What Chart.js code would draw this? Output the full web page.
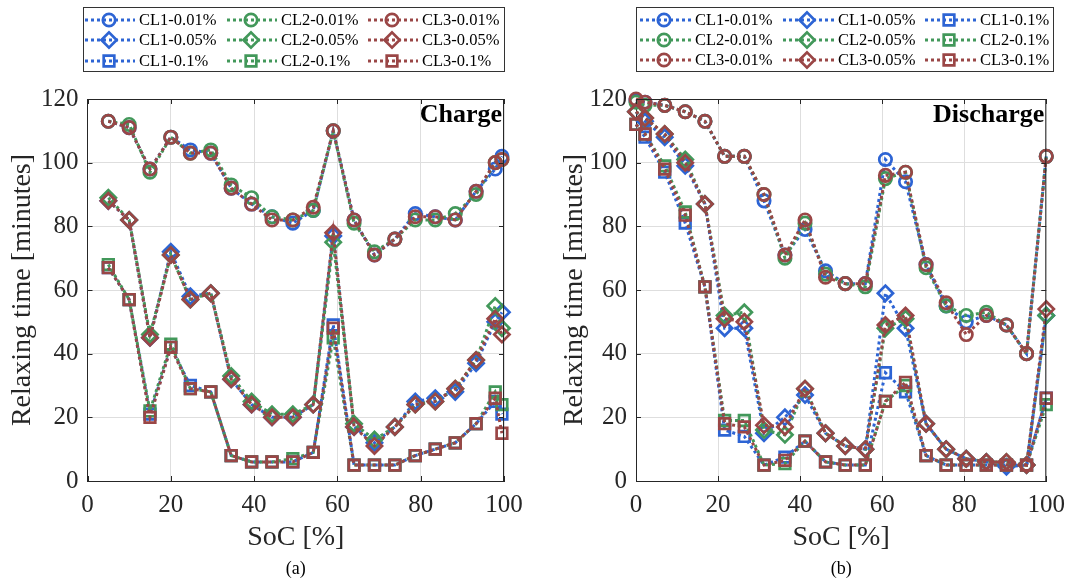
<!DOCTYPE html>
<html><head><meta charset="utf-8">
<script src="https://cdn.jsdelivr.net/npm/chart.js@4/dist/chart.umd.min.js"></script>
<style>
html,body{margin:0;padding:0;background:#fff;}
#wrap{position:relative;width:1074px;height:585px;overflow:hidden;}
.pane{position:absolute;top:0;width:537px;height:585px;}
</style></head><body>
<div id="wrap">
<div class="pane" style="left:0"><canvas id="c1" width="537" height="585"></canvas></div>
<div class="pane" style="left:537px"><canvas id="c2" width="537" height="585"></canvas></div>
</div>
<script>
// ---------- data ----------
const xTicks = [0, 20, 40, 60, 80, 100];
const yTicks = [0, 20, 40, 60, 80, 100, 120];

const chargeSoc = [5, 10, 15, 20, 24.7, 29.6, 34.5, 39.4, 44.3, 49.3, 54.2, 59, 64, 68.9, 73.8, 78.7, 83.5, 88.3, 93.3, 97.9, 99.5];
const chargeCL1_001 = [113, 111, 98, 108, 104, 103, 92, 87, 83, 81, 85, 110, 82, 71, 76, 84, 83, 82, 91, 98, 102];
const chargeCL2_001 = [113, 112, 97, 108, 103, 104, 93, 89, 83, 82, 85, 110, 81, 72, 76, 82, 82, 84, 90, 100, 101];
const chargeCL3_001 = [113, 111, 98, 108, 103, 103, 92, 87, 82, 82, 86, 110, 82, 71, 76, 83, 83, 82, 91, 100, 101];
const chargeCL1_005 = [88, 82, 45, 72, 58, 59, 32, 24, 20, 20, 24, 77, 17, 12, 17, 25, 26, 28, 37, 50, 53];
const chargeCL2_005 = [89, 82, 46, 71, 57, 59, 33, 25, 21, 21, 24, 75, 18, 13, 17, 24, 25, 29, 38, 55, 48];
const chargeCL3_005 = [88, 82, 45, 71, 57, 59, 32, 24, 20, 20, 24, 78, 17, 11, 17, 24, 25, 29, 38, 51, 46];
const chargeCL1_01 = [67, 57, 21, 42, 30, 28, 8, 6, 6, 6, 9, 49, 5, 5, 5, 8, 10, 12, 18, 25, 21];
const chargeCL2_01 = [68, 57, 22, 43, 29, 28, 8, 6, 6, 7, 9, 45, 5, 5, 5, 8, 10, 12, 18, 28, 24];
const chargeCL3_01 = [67, 57, 20, 42, 29, 28, 8, 6, 6, 6, 9, 48, 5, 5, 5, 8, 10, 12, 18, 26, 15];

const dischargeSoc = [0, 2.2, 7, 12, 16.8, 21.6, 26.4, 31.2, 36.3, 41.2, 46.2, 51, 55.9, 60.8, 65.7, 70.7, 75.6, 80.5, 85.4, 90.3, 95.2, 100];
const dischargeCL1_001 = [119.5, 119, 118, 116, 113, 102, 102, 88, 71, 79, 66, 62, 62, 101, 94, 68, 55, 50, 52, 49, 40, 102];
const dischargeCL2_001 = [119, 118, 118, 116, 113, 102, 102, 90, 70, 81, 65, 62, 61, 95, 97, 67, 55, 52, 53, 49, 40, 102];
const dischargeCL3_001 = [120, 119, 118, 116, 113, 102, 102, 90, 71, 82, 64, 62, 62, 96, 97, 68, 56, 46, 52, 49, 40, 102];
const dischargeCL1_005 = [116, 113, 108, 99, 87, 48, 48, 15, 20, 27, 15, 11, 10, 59, 48, 18, 10, 7, 6, 4.5, 5, 52];
const dischargeCL2_005 = [116, 114, 109, 101, 87, 52, 53, 16, 14.5, 29, 15, 11, 10, 48, 51, 18, 10, 7, 6, 6, 5, 52];
const dischargeCL3_005 = [116, 114, 109, 100, 87, 51, 50, 17.5, 17, 29, 15, 11, 10, 49, 52, 18, 10, 7, 6, 6, 5, 54];
const dischargeCL1_01 = [112, 108, 97, 81, 61, 16, 14, 5, 7.5, 12.5, 6, 5, 5, 34, 28, 8, 5, 5, 5, 5, 5, 26];
const dischargeCL2_01 = [112, 109, 99, 84.5, 61, 19, 19, 5, 5.5, 12.5, 6, 5, 5, 25, 30, 8, 5, 5, 5, 5, 5, 24];
const dischargeCL3_01 = [112, 109, 98, 83.5, 61, 18, 17, 5, 6.5, 12.5, 6, 5, 5, 25, 31, 8, 5, 5, 5, 5, 5, 26];

const seriesNames = ['CL1-0.01%', 'CL2-0.01%', 'CL3-0.01%', 'CL1-0.05%', 'CL2-0.05%', 'CL3-0.05%', 'CL1-0.1%', 'CL2-0.1%', 'CL3-0.1%'];

// ---------- styles ----------
const COLORS = {CL1: '#2d64d4', CL2: '#42985a', CL3: '#9a4646'};
const STYLES = {'0.01%': 'circle', '0.05%': 'rectRot', '0.1%': 'rect'};
const RADII = {circle: 6.2, rectRot: 7.6, rect: 7.5};
const AXIS_COLOR = '#262626';
const FONT = '"Liberation Serif", "Times New Roman", serif';

function styleOf(name) {
  const cl = name.slice(0, 3), rate = name.slice(4);
  const ps = STYLES[rate];
  return {color: COLORS[cl], pointStyle: ps, radius: RADII[ps], clIndex: +name[2]};
}

function buildDatasets(soc, valuesByName) {
  return seriesNames.map(name => {
    const st = styleOf(name);
    const vals = valuesByName[name];
    return {
      label: name,
      data: soc.map((x, i) => ({x: x, y: vals[i]})),
      borderColor: st.color,
      backgroundColor: 'rgba(0,0,0,0)',
      borderWidth: 3,
      borderDash: [3, 3],
      borderCapStyle: 'butt',
      pointStyle: st.pointStyle,
      pointRadius: st.radius,
      pointBorderWidth: 2.7,
      pointBorderColor: st.color,
      pointBackgroundColor: 'rgba(0,0,0,0)',
      tension: 0,
      clip: false,
      order: 3 - st.clIndex
    };
  });
}

function drawMarker(ctx, style, x, y, r) {
  ctx.beginPath();
  if (style === 'circle') {
    ctx.arc(x, y, r, 0, Math.PI * 2);
  } else if (style === 'rectRot') {
    ctx.moveTo(x - r, y); ctx.lineTo(x, y - r); ctx.lineTo(x + r, y); ctx.lineTo(x, y + r); ctx.closePath();
  } else {
    const s = r * Math.SQRT1_2;
    ctx.rect(x - s, y - s, 2 * s, 2 * s);
  }
  ctx.stroke();
}

const decorPlugin = {
  id: 'decor',
  afterDraw(chart, args, opts) {
    const ctx = chart.ctx;
    const a = chart.chartArea;
    const xs = chart.scales.x, ys = chart.scales.y;
    ctx.save();
    // frame top/right + inward ticks
    ctx.strokeStyle = AXIS_COLOR;
    ctx.lineWidth = 1;
    ctx.beginPath();
    ctx.moveTo(a.left, a.top + 0.5); ctx.lineTo(a.right, a.top + 0.5);
    ctx.moveTo(a.right - 0.5, a.top); ctx.lineTo(a.right - 0.5, a.bottom);
    xTicks.forEach(t => {
      const px = Math.round(xs.getPixelForValue(t)) + 0.5;
      ctx.moveTo(px, a.bottom); ctx.lineTo(px, a.bottom - 5);
      ctx.moveTo(px, a.top); ctx.lineTo(px, a.top + 5);
    });
    yTicks.forEach(t => {
      const py = Math.round(ys.getPixelForValue(t)) + 0.5;
      ctx.moveTo(a.left, py); ctx.lineTo(a.left + 5, py);
      ctx.moveTo(a.right, py); ctx.lineTo(a.right - 5, py);
    });
    ctx.stroke();

    // panel title
    ctx.fillStyle = '#000';
    ctx.font = 'bold 26px ' + FONT;
    ctx.textAlign = 'right';
    ctx.textBaseline = 'alphabetic';
    ctx.fillText(opts.title, a.right - 2, 122);

    // sub caption
    ctx.font = '18px ' + FONT;
    ctx.textAlign = 'center';
    ctx.textBaseline = 'middle';
    ctx.fillStyle = '#000';
    ctx.fillText(opts.caption, (a.left + a.right) / 2, 569);

    // legend
    const L = opts.legend;
    ctx.fillStyle = '#fff';
    ctx.fillRect(L.box[0], L.box[1], L.box[2] - L.box[0], L.box[3] - L.box[1]);
    ctx.strokeStyle = '#333';
    ctx.lineWidth = 1;
    ctx.strokeRect(L.box[0] + 0.5, L.box[1] + 0.5, L.box[2] - L.box[0], L.box[3] - L.box[1]);
    L.items.forEach(it => {
      const st = styleOf(it.name);
      const x0 = L.cols[it.col], y = L.rows[it.row];
      ctx.strokeStyle = st.color;
      ctx.lineWidth = 3;
      ctx.setLineDash([3, 3]);
      ctx.beginPath();
      ctx.moveTo(x0, y); ctx.lineTo(x0 + L.lineW, y);
      ctx.stroke();
      ctx.setLineDash([]);
      ctx.lineWidth = 2.7;
      drawMarker(ctx, st.pointStyle, x0 + L.markerDx, y, st.radius);
      ctx.fillStyle = '#000';
      ctx.font = '16.5px ' + FONT;
      ctx.textAlign = 'left';
      ctx.textBaseline = 'middle';
      ctx.fillText(it.name, x0 + L.textDx, y + 1);
    });
    ctx.restore();
  }
};

function makeChart(canvasId, soc, valuesByName, cfg) {
  return new Chart(document.getElementById(canvasId), {
    type: 'line',
    data: {datasets: buildDatasets(soc, valuesByName)},
    plugins: [decorPlugin],
    options: {
      responsive: false,
      animation: false,
      layout: {padding: {left: 0, right: cfg.rightPad, top: 99, bottom: 0}},
      plugins: {
        legend: {display: false},
        tooltip: {enabled: false},
        decor: {title: cfg.title, caption: cfg.caption, legend: cfg.legend}
      },
      scales: {
        x: {
          type: 'linear', min: 0, max: 100,
          afterBuildTicks: s => { s.ticks = xTicks.map(v => ({value: v})); },
          afterFit: s => { s.height = 104; },
          ticks: {color: AXIS_COLOR, font: {family: FONT, size: 25}, padding: 9, maxRotation: 0},
          grid: {color: '#dedede', lineWidth: 1, drawTicks: false},
          border: {display: true, color: AXIS_COLOR, width: 1},
          title: {display: true, text: 'SoC [%]', color: AXIS_COLOR, font: {family: FONT, size: 28}, padding: {top: 0, bottom: 31}}
        },
        y: {
          type: 'linear', min: 0, max: 120,
          afterBuildTicks: s => { s.ticks = yTicks.map(v => ({value: v})); },
          afterFit: s => { s.width = cfg.yWidth; },
          ticks: {color: AXIS_COLOR, font: {family: FONT, size: 25}, padding: 9},
          grid: {color: '#dedede', lineWidth: 1, drawTicks: false},
          border: {display: true, color: AXIS_COLOR, width: 1},
          title: {display: true, text: 'Relaxing time [minutes]', color: AXIS_COLOR, font: {family: FONT, size: 28}, padding: {top: cfg.yTitlePad, bottom: 0}}
        }
      }
    }
  });
}

const chargeValues = {
  'CL1-0.01%': chargeCL1_001, 'CL2-0.01%': chargeCL2_001, 'CL3-0.01%': chargeCL3_001,
  'CL1-0.05%': chargeCL1_005, 'CL2-0.05%': chargeCL2_005, 'CL3-0.05%': chargeCL3_005,
  'CL1-0.1%': chargeCL1_01, 'CL2-0.1%': chargeCL2_01, 'CL3-0.1%': chargeCL3_01
};
const dischargeValues = {
  'CL1-0.01%': dischargeCL1_001, 'CL2-0.01%': dischargeCL2_001, 'CL3-0.01%': dischargeCL3_001,
  'CL1-0.05%': dischargeCL1_005, 'CL2-0.05%': dischargeCL2_005, 'CL3-0.05%': dischargeCL3_005,
  'CL1-0.1%': dischargeCL1_01, 'CL2-0.1%': dischargeCL2_01, 'CL3-0.1%': dischargeCL3_01
};

// legend layouts: left = rows by rate, cols by CL; right = rows by CL, cols by rate
const leftLegendItems = seriesNames.map((n, i) => ({name: n, row: Math.floor(i / 3), col: i % 3}));
const rightLegendItems = seriesNames.map((n, i) => ({name: n, row: i % 3, col: Math.floor(i / 3)}));

makeChart('c1', chargeSoc, chargeValues, {
  rightPad: 33, yWidth: 87.5, yTitlePad: 6, title: 'Charge', caption: '(a)',
  legend: {box: [83, 7, 504, 71], rows: [20, 40, 61], cols: [85, 227, 368], lineW: 50, markerDx: 24, textDx: 54, items: leftLegendItems}
});
makeChart('c2', dischargeSoc, dischargeValues, {
  rightPad: 22, yWidth: 99, yTitlePad: 21, title: 'Discharge', caption: '(b)',
  legend: {box: [99, 7, 516, 71], rows: [20, 40, 60], cols: [103, 246, 388], lineW: 52, markerDx: 24, textDx: 55, items: rightLegendItems}
});
</script>
</body></html>
